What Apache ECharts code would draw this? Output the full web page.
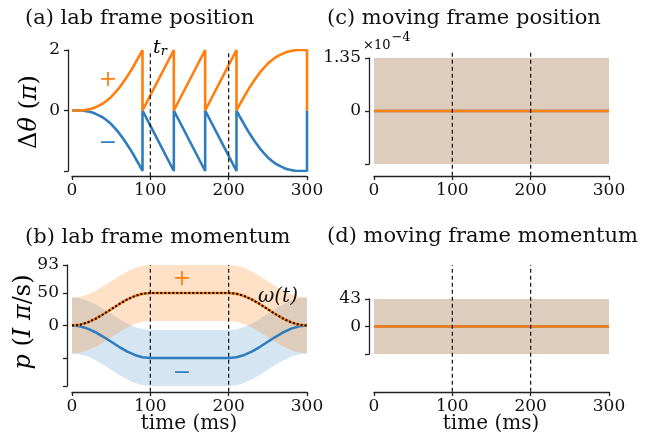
<!DOCTYPE html>
<html>
<head>
<meta charset="utf-8">
<script src="https://cdn.jsdelivr.net/npm/echarts@6/dist/echarts.min.js"></script>
<style>
html,body{margin:0;padding:0;background:#fff;}
#chart{width:645px;height:443px;}
</style>
</head>
<body>
<div id="chart"></div>
<script>
// ---------- data ----------
// (a) lab frame position, wrapped phase (units of pi)
const aTime = [0,5,10,15,20,25,30,35,40,45,50,55,60,65,70,75,80,85,90,90,100,130,130,170,170,200,210,210,215,220,225,230,235,240,245,250,255,260,265,270,275,280,285,290,295,300,300];
const aPlus = [0,0,0,0.01,0.03,0.06,0.11,0.17,0.24,0.34,0.45,0.59,0.74,0.92,1.11,1.31,1.53,1.76,2.0,0,0.5,2.0,0,2.0,0,1.5,2.0,0,0.24,0.47,0.69,0.89,1.08,1.26,1.41,1.55,1.66,1.76,1.83,1.89,1.94,1.97,1.99,2.0,2.0,2.0,0];
const aMinus = [0,0,0,-0.01,-0.03,-0.06,-0.11,-0.17,-0.24,-0.34,-0.45,-0.59,-0.74,-0.92,-1.11,-1.31,-1.53,-1.76,-2.0,0,-0.5,-2.0,0,-2.0,0,-1.5,-2.0,0,-0.24,-0.47,-0.69,-0.89,-1.08,-1.26,-1.41,-1.55,-1.66,-1.76,-1.83,-1.89,-1.94,-1.97,-1.99,-2.0,-2.0,-2.0,0];

// (b) lab frame momentum
const bTime = [0,10,20,30,40,50,60,70,80,90,100,110,120,130,140,150,160,170,180,190,200,210,220,230,240,250,260,270,280,290,300];
const bPlus = [0,1.2,4.8,10.3,17.3,25,32.7,39.7,45.2,48.8,50,50,50,50,50,50,50,50,50,50,50,48.8,45.2,39.7,32.7,25,17.3,10.3,4.8,1.2,0];
const bMinus = [0,-1.2,-4.8,-10.3,-17.3,-25,-32.7,-39.7,-45.2,-48.8,-50,-50,-50,-50,-50,-50,-50,-50,-50,-50,-50,-48.8,-45.2,-39.7,-32.7,-25,-17.3,-10.3,-4.8,-1.2,0];
const bOmega = [0,1.2,4.8,10.3,17.3,25,32.7,39.7,45.2,48.8,50,50,50,50,50,50,50,50,50,50,50,48.8,45.2,39.7,32.7,25,17.3,10.3,4.8,1.2,0];
const bPlusHi = [43,44.2,47.8,53.3,60.3,68,75.7,82.7,88.2,91.8,93,93,93,93,93,93,93,93,93,93,93,91.8,88.2,82.7,75.7,68,60.3,53.3,47.8,44.2,43];
const bPlusLo = [-43,-41.8,-38.2,-32.7,-25.7,-18,-10.3,-3.3,2.2,5.8,7,7,7,7,7,7,7,7,7,7,7,5.8,2.2,-3.3,-10.3,-18,-25.7,-32.7,-38.2,-41.8,-43];
const bMinusHi = [43,41.8,38.2,32.7,25.7,18,10.3,3.3,-2.2,-5.8,-7,-7,-7,-7,-7,-7,-7,-7,-7,-7,-7,-5.8,-2.2,3.3,10.3,18,25.7,32.7,38.2,41.8,43];
const bMinusLo = [-43,-44.2,-47.8,-53.3,-60.3,-68,-75.7,-82.7,-88.2,-91.8,-93,-93,-93,-93,-93,-93,-93,-93,-93,-93,-93,-91.8,-88.2,-82.7,-75.7,-68,-60.3,-53.3,-47.8,-44.2,-43];

// (c) moving frame position (x1e-4)
const cTime = [0,100,200,300];
const cPlus = [0,0,0,0];
const cMinus = [0,0,0,0];
const cHi = [1.37,1.37,1.37,1.37];
const cLo = [-1.36,-1.36,-1.36,-1.36];

// (d) moving frame momentum
const dTime = [0,100,200,300];
const dPlus = [0,0,0,0];
const dMinus = [0,0,0,0];
const dHi = [43,43,43,43];
const dLo = [-43,-43,-43,-43];

// reference times (ms) and tick labels
const refTimes = [100,200];
const xTicks = [0,100,200,300];
const aYTicks = [-2,0,2], aYLabels = [0,2];
const bYTicks = [-93,-50,0,50,93], bYLabels = [0,50,93];
const cYTicks = [-1.35,0,1.35], cYLabels = [0,1.35];
const dYTicks = [-43,0,43], dYLabels = [0,43];
// vertical extent of the dashed reference lines in each panel (data units)
const refSpan = [[-2.17,2.0],[-102,93],[-1.65,1.56],[-102,96]];

// ---------- styling ----------
const ORANGE = '#ff7f0e', BLUE = '#2f7dbd';
const FONT = 'DejaVu Serif';
const AX = '#222';

const grids = [
  {left:72, top:50, width:235, height:121},
  {left:72, top:265, width:235, height:121},
  {left:374, top:58, width:235, height:106},
  {left:374, top:299, width:235, height:55}
];
const xOffsets = [5,6,12,38];
const yOffsets = [4,5,5,5];
const yCfg = [
  {min:-2,max:2,ticks:aYTicks,labels:aYLabels},
  {min:-93,max:93,ticks:bYTicks,labels:bYLabels},
  {min:-1.35,max:1.35,ticks:cYTicks,labels:cYLabels},
  {min:-43,max:43,ticks:dYTicks,labels:dYLabels}
];

const xAxis = grids.map((g,i)=>({
  gridIndex:i, type:'value', min:0, max:300, position:'bottom', offset:xOffsets[i],
  axisLine:{show:true,onZero:false,lineStyle:{color:AX,width:1.3}},
  axisTick:{show:true,length:4,lineStyle:{color:AX,width:1.3},customValues:xTicks},
  axisLabel:{show:true,color:'#111',fontFamily:FONT,fontSize:17,margin:6,customValues:xTicks},
  splitLine:{show:false}
}));
const yAxis = yCfg.map((c,i)=>({
  gridIndex:i, type:'value', min:c.min, max:c.max, offset:yOffsets[i], position:'left',
  axisLine:{show:true,onZero:false,lineStyle:{color:AX,width:1.3}},
  axisTick:{show:true,length:4,lineStyle:{color:AX,width:1.3},customValues:c.ticks},
  axisLabel:{show:true,color:'#111',fontFamily:FONT,fontSize:17,margin:8,customValues:c.labels},
  splitLine:{show:false}
}));

function zip(t,v){return t.map((x,i)=>[x,v[i]]);}
function band(idx,t,hi,lo,color,op){
  return {
    type:'custom', xAxisIndex:idx, yAxisIndex:idx, silent:true, clip:true,
    data:t.map((x,i)=>[x,hi[i],lo[i]]),
    encode:{x:0,y:[1,2]},
    renderItem:function(params,api){
      if(params.dataIndex!==0) return null;
      const pts=[];
      for(let i=0;i<t.length;i++) pts.push(api.coord([t[i],hi[i]]));
      for(let i=t.length-1;i>=0;i--) pts.push(api.coord([t[i],lo[i]]));
      return {type:'polygon',shape:{points:pts},style:{fill:color,opacity:op}};
    }
  };
}
function line(idx,t,v,color,w,z){
  return {type:'line',xAxisIndex:idx,yAxisIndex:idx,data:zip(t,v),symbol:'none',
    lineStyle:{color:color,width:w},z:z||3,silent:true,animation:false};
}
function refLines(idx){
  const s=refSpan[idx];
  return refTimes.map(rt=>({type:'line',xAxisIndex:idx,yAxisIndex:idx,clip:false,
    data:[[rt,s[0]],[rt,s[1]]],symbol:'none',z:6,silent:true,
    lineStyle:{color:'#111',width:1.2,type:[4,3]}}));
}

const series = [
  // (a)
  line(0,aTime,aMinus,BLUE,2.6),
  line(0,aTime,aPlus,ORANGE,2.6),
  ...refLines(0),
  // (b)
  band(1,bTime,bMinusHi,bMinusLo,BLUE,0.2),
  band(1,bTime,bPlusHi,bPlusLo,ORANGE,0.23),
  line(1,bTime,bMinus,BLUE,2.6),
  line(1,bTime,bPlus,ORANGE,2.6),
  {type:'line',xAxisIndex:1,yAxisIndex:1,data:zip(bTime,bOmega),symbol:'none',z:5,silent:true,
    lineStyle:{color:'#000',width:2,type:[2,2]}},
  ...refLines(1),
  // (c)
  band(2,cTime,cHi,cLo,BLUE,0.2),
  band(2,cTime,cHi,cLo,ORANGE,0.23),
  line(2,cTime,cMinus,BLUE,2.6),
  line(2,cTime,cPlus,ORANGE,2.6),
  ...refLines(2),
  // (d)
  band(3,dTime,dHi,dLo,BLUE,0.2),
  band(3,dTime,dHi,dLo,ORANGE,0.23),
  line(3,dTime,dMinus,BLUE,2.6),
  line(3,dTime,dPlus,ORANGE,2.6),
  ...refLines(3)
];

function txt(x,y,text,opts){
  opts=opts||{};
  return {type:'text',x:x,y:y,rotation:opts.rotation||0,silent:true,z:10,
    style:Object.assign({text:text,fill:opts.fill||'#111',font:(opts.style||'normal')+' '+(opts.size||20)+'px "'+FONT+'"',
      textAlign:opts.align||'left',textVerticalAlign:'middle'},opts.extra||{})};
}
const richY = {
  m:{fontFamily:FONT,fontSize:24,color:'#111'},
  i:{fontFamily:FONT,fontSize:24,fontStyle:'italic',color:'#111'}
};
const graphic = [
  txt(25,19,'(a) lab frame position',{size:21}),
  txt(25,238,'(b) lab frame momentum',{size:21}),
  txt(327,19,'(c) moving frame position',{size:21}),
  txt(327,237,'(d) moving frame momentum',{size:21}),
  txt(189,424,'time (ms)',{size:20,align:'center'}),
  txt(491,424,'time (ms)',{size:20,align:'center'}),
  {type:'text',x:30,y:112,rotation:Math.PI/2,silent:true,
    style:{text:'{m|Δ}{i|θ}{m| (}{i|π}{m|)}',rich:richY,textAlign:'center',textVerticalAlign:'middle'}},
  {type:'text',x:24,y:322,rotation:Math.PI/2,silent:true,
    style:{text:'{i|p}{m| (}{i|I π}{m|/s)}',rich:richY,textAlign:'center',textVerticalAlign:'middle'}},
  {type:'text',x:363,y:42,silent:true,
    style:{text:'{a|×10}{b|−4}',rich:{a:{fontFamily:FONT,fontSize:13,color:'#111',verticalAlign:'bottom'},b:{fontFamily:FONT,fontSize:13,color:'#111',verticalAlign:'top',padding:[0,0,8,1]}},textVerticalAlign:'middle'}},
  {type:'text',x:153,y:48,silent:true,
    style:{text:'{t|t}{r|r}',rich:{t:{fontFamily:FONT,fontSize:19,fontStyle:'italic',color:'#111'},r:{fontFamily:FONT,fontSize:13,fontStyle:'italic',color:'#111',padding:[8,0,0,0]}},textVerticalAlign:'middle'}},
  txt(108,80,'+',{size:22,fill:ORANGE,align:'center'}),
  txt(108,143,'−',{size:22,fill:BLUE,align:'center'}),
  txt(182,279,'+',{size:22,fill:ORANGE,align:'center'}),
  txt(182,373,'−',{size:22,fill:BLUE,align:'center'}),
  txt(258,297,'ω(t)',{size:20,style:'italic'})
];

const chart = echarts.init(document.getElementById('chart'),null,{renderer:'canvas'});
chart.setOption({
  animation:false,
  backgroundColor:'#fff',
  textStyle:{fontFamily:FONT},
  grid:grids.map(g=>Object.assign({containLabel:false},g)),
  xAxis:xAxis, yAxis:yAxis, series:series, graphic:graphic
});
</script>
</body>
</html>
